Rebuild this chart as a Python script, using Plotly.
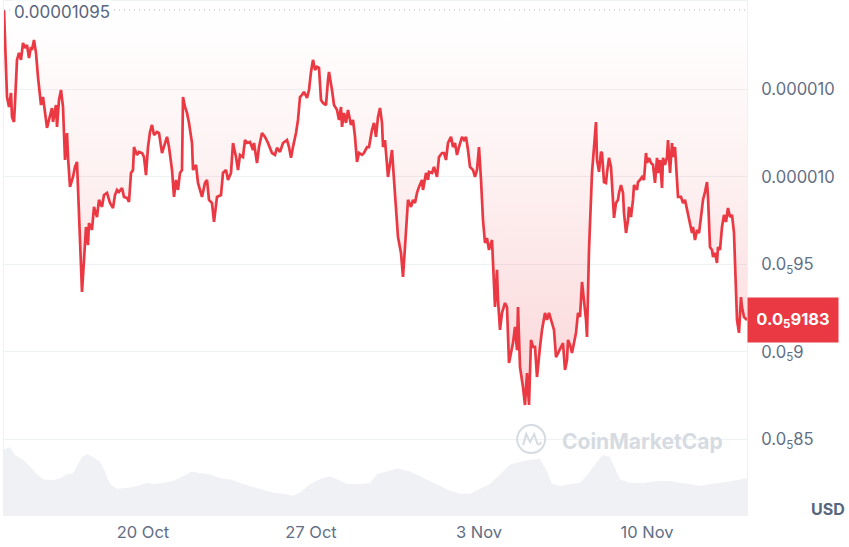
import pandas as pd
import plotly.graph_objects as go

# ---- data (price in units of 1e-6 USD, time as hours from the first sample) ----
start_time = pd.Timestamp("2024-10-14 05:00")
span_hours = 743
open_price = 10.954  # 0.00001095

price_hours = [
    0, 3, 5, 7, 8, 10, 11, 13, 15, 17, 19, 21, 23, 25, 27, 28, 30, 32, 34, 37,
    39, 42, 43, 45, 48, 49, 52, 53, 55, 57, 59, 61, 63, 64, 66, 69, 71, 73, 74, 76,
    78, 80, 82, 84, 85, 88, 90, 93, 95, 98, 100, 103, 106, 109, 111, 113, 115, 118, 120, 123,
    125, 127, 129, 130, 133, 135, 138, 140, 142, 144, 146, 148, 150, 153, 155, 158, 160, 163, 165, 168,
    170, 172, 174, 176, 178, 179, 181, 183, 185, 188, 189, 192, 194, 198, 201, 203, 205, 208, 210, 213,
    217, 219, 222, 224, 227, 229, 232, 234, 236, 239, 241, 243, 246, 249, 250, 253, 255, 258, 261, 264,
    268, 271, 273, 276, 279, 283, 285, 287, 289, 292, 294, 296, 298, 300, 303, 305, 307, 309, 311, 313,
    315, 317, 319, 322, 324, 325, 328, 330, 333, 335, 337, 338, 340, 342, 344, 347, 349, 351, 353, 355,
    358, 360, 363, 365, 368, 370, 372, 374, 376, 378, 379, 381, 384, 388, 390, 392, 394, 397, 399, 401,
    403, 404, 407, 409, 411, 413, 415, 418, 419, 422, 424, 425, 428, 430, 433, 435, 438, 440, 442, 444,
    447, 449, 451, 453, 455, 458, 460, 462, 464, 466, 469, 471, 473, 475, 477, 479, 481, 483, 485, 488,
    491, 493, 494, 496, 498, 501, 503, 505, 507, 509, 511, 513, 514, 516, 519, 521, 523, 525, 527, 529,
    531, 533, 536, 538, 541, 543, 545, 548, 550, 552, 554, 557, 559, 561, 563, 564, 566, 568, 570, 572,
    574, 576, 578, 580, 582, 583, 585, 588, 589, 592, 593, 595, 597, 598, 600, 602, 603, 605, 607, 609,
    610, 612, 614, 615, 617, 619, 620, 622, 624, 625, 627, 629, 630, 633, 634, 636, 638, 640, 642, 643,
    645, 647, 649, 651, 653, 654, 656, 658, 659, 661, 663, 664, 666, 668, 669, 671, 673, 674, 677, 679,
    681, 683, 686, 688, 689, 691, 693, 695, 697, 699, 701, 703, 704, 706, 708, 709, 711, 713, 714, 716,
    718, 720, 722, 724, 726, 728, 730, 732, 733, 735, 737, 738, 740, 743,
]
price_e6 = [
    10.954, 10.457, 10.400, 10.480, 10.343, 10.314, 10.423, 10.669, 10.709, 10.669,
    10.766, 10.737, 10.754, 10.680, 10.743, 10.726, 10.783, 10.709, 10.571, 10.411,
    10.457, 10.309, 10.280, 10.326, 10.394, 10.314, 10.411, 10.286, 10.440, 10.497,
    10.400, 10.097, 10.251, 10.114, 9.943, 10.000, 10.057, 10.086, 9.943, 9.680,
    9.343, 9.526, 9.714, 9.611, 9.737, 9.697, 9.829, 9.771, 9.869, 9.829,
    9.897, 9.909, 9.851, 9.823, 9.897, 9.926, 9.914, 9.937, 9.886, 9.880,
    9.857, 10.023, 10.040, 10.171, 10.126, 10.143, 10.137, 10.114, 10.011, 10.171,
    10.257, 10.297, 10.240, 10.257, 10.251, 10.137, 10.171, 10.229, 10.171, 10.040,
    9.886, 9.983, 9.926, 10.023, 10.040, 10.457, 10.400, 10.366, 10.309, 10.194,
    10.040, 10.069, 9.966, 9.886, 9.966, 9.983, 9.869, 9.851, 9.743, 9.886,
    9.897, 10.023, 10.040, 9.983, 10.023, 10.194, 10.114, 10.040, 10.126, 10.114,
    10.211, 10.194, 10.200, 10.154, 10.194, 10.080, 10.171, 10.251, 10.229, 10.194,
    10.137, 10.126, 10.166, 10.143, 10.194, 10.211, 10.171, 10.109, 10.171, 10.251,
    10.326, 10.457, 10.469, 10.486, 10.451, 10.497, 10.600, 10.669, 10.611, 10.629,
    10.623, 10.440, 10.423, 10.411, 10.554, 10.600, 10.497, 10.411, 10.383, 10.326,
    10.400, 10.286, 10.366, 10.309, 10.383, 10.297, 10.326, 10.229, 10.086, 10.137,
    10.126, 10.137, 10.171, 10.171, 10.269, 10.309, 10.229, 10.343, 10.394, 10.309,
    10.171, 10.211, 10.000, 10.154, 9.983, 9.794, 9.657, 9.566, 9.429, 9.600,
    9.754, 9.869, 9.829, 9.869, 9.851, 9.909, 9.943, 9.983, 9.926, 10.023,
    9.983, 10.029, 10.023, 10.057, 10.000, 10.114, 10.137, 10.137, 10.097, 10.194,
    10.229, 10.171, 10.194, 10.126, 10.171, 10.229, 10.211, 10.229, 10.154, 10.057,
    10.040, 10.000, 10.040, 10.171, 9.983, 9.754, 9.623, 9.651, 9.583, 9.640,
    9.257, 9.469, 9.297, 9.126, 9.223, 9.280, 9.257, 8.937, 8.994, 9.051,
    9.143, 9.011, 9.257, 8.914, 8.800, 8.697, 8.880, 8.697, 9.069, 9.029,
    9.029, 8.857, 9.029, 9.126, 9.223, 9.183, 9.223, 9.166, 9.126, 8.971,
    8.994, 9.029, 9.051, 8.897, 8.954, 9.069, 9.040, 8.994, 9.051, 9.109,
    9.223, 9.200, 9.400, 9.297, 9.183, 9.086, 9.583, 10.023, 10.086, 10.314,
    10.097, 10.029, 10.143, 10.137, 9.971, 9.966, 10.023, 10.109, 10.057, 9.886,
    9.766, 9.851, 9.869, 9.909, 9.954, 9.909, 9.794, 9.680, 9.754, 9.829,
    9.771, 9.869, 9.954, 9.926, 9.971, 9.983, 10.000, 9.983, 10.137, 10.080,
    10.109, 10.080, 10.069, 9.966, 10.109, 10.023, 10.097, 9.937, 10.109, 10.069,
    10.114, 10.211, 10.023, 10.194, 10.114, 10.171, 9.966, 9.886, 9.886, 9.851,
    9.869, 9.811, 9.737, 9.680, 9.714, 9.640, 9.697, 9.680, 9.771, 9.869,
    9.914, 9.971, 9.886, 9.600, 9.583, 9.543, 9.566, 9.509, 9.600, 9.583,
    9.714, 9.783, 9.743, 9.823, 9.771, 9.783, 9.680, 9.371, 9.183, 9.109,
    9.314, 9.257, 9.200, 9.183,
]

volume_hours = [
    0, 6, 11, 19, 26, 33, 39, 49, 56, 63, 69, 74, 78, 83, 89, 96, 101, 106, 113, 123,
    133, 143, 149, 159, 169, 179, 188, 196, 206, 216, 226, 236, 246, 256, 269, 279, 289, 296, 306, 316,
    326, 333, 343, 356, 366, 373, 383, 393, 406, 416, 426, 436, 446, 456, 466, 476, 486, 496, 506, 516,
    526, 536, 543, 548, 556, 566, 576, 584, 593, 599, 606, 611, 616, 626, 639, 653, 666, 676, 686, 696,
    706, 716, 726, 736, 743,
]
volume = [
    69, 71, 63, 58, 51, 43, 38, 37, 39, 43, 44, 53, 61, 64, 61, 56, 46, 33, 28, 29,
    31, 34, 33, 34, 36, 41, 46, 44, 43, 39, 38, 34, 31, 28, 24, 23, 21, 24, 33, 38,
    41, 38, 33, 33, 34, 43, 46, 49, 46, 41, 36, 31, 26, 23, 23, 28, 33, 43, 53, 56,
    58, 59, 46, 33, 31, 33, 34, 43, 56, 63, 61, 49, 38, 34, 34, 36, 36, 34, 33, 31,
    33, 34, 36, 38, 39,
]

grid_vals = [8.5, 9.0, 9.5, 10.0, 10.5]
grid_text = ["0.0<sub>5</sub>85", "0.0<sub>5</sub>9", "0.0<sub>5</sub>95", "0.000010", "0.000010"]
open_label = "0.00001095"
last_label = "<b>0.0<sub>5</sub>9183</b>"

RED = "#ea3943"
GREY = "#58667e"
FONT = "Inter, 'Noto Sans', sans-serif"

price_times = [start_time + pd.Timedelta(hours=h) for h in price_hours]
volume_times = [start_time + pd.Timedelta(hours=h) for h in volume_hours]
end_time = start_time + pd.Timedelta(hours=span_hours)

fig = go.Figure()

# 出来高（背景のグレー領域）
fig.add_trace(go.Scatter(
    x=volume_times, y=volume, yaxis="y2",
    mode="lines", line=dict(width=0, color="#eef0f4"),
    fill="tozeroy", fillcolor="#eff1f4", hoverinfo="skip",
))

# 始値ライン（塗りの基準）
fig.add_trace(go.Scatter(
    x=[start_time, end_time], y=[open_price, open_price],
    mode="lines", line=dict(width=0), hoverinfo="skip",
))

# 価格ライン + グラデーション塗り
fig.add_trace(go.Scatter(
    x=price_times, y=price_e6,
    mode="lines", line=dict(color=RED, width=2.7),
    fill="tonexty",
    fillgradient=dict(
        type="vertical",
        colorscale=[[0, "rgba(234,57,67,0.22)"], [0.6, "rgba(234,57,67,0.07)"],
                    [1, "rgba(234,57,67,0.0)"]],
        start=8.6, stop=open_price,
    ),
))

# 点線（始値）
fig.add_trace(go.Scatter(
    x=[start_time, end_time], y=[open_price, open_price],
    mode="lines", line=dict(color="#a6b0c3", width=1, dash="1px,4px"),
    hoverinfo="skip",
))

fig.update_layout(
    width=849, height=547,
    margin=dict(l=4, r=102, t=0, b=31),
    paper_bgcolor="white", plot_bgcolor="white",
    showlegend=False,
    font=dict(family=FONT, size=16, color=GREY),
    xaxis=dict(
        range=[start_time, end_time],
        showgrid=False, zeroline=False, showline=False,
        tickvals=[pd.Timestamp("2024-10-20"), pd.Timestamp("2024-10-27"),
                  pd.Timestamp("2024-11-03"), pd.Timestamp("2024-11-10")],
        tickformat="%-d %b",
        tickfont=dict(size=16.5, color="#616e85"),
        ticklabelstandoff=4,
    ),
    yaxis=dict(
        range=[8.063, 11.011], side="right",
        tickvals=grid_vals, ticktext=grid_text,
        tickfont=dict(size=16.6, color="#616e85"),
        gridcolor="#eff2f5", gridwidth=1, zeroline=False,
        showline=True, linecolor="#eff2f5", mirror=True,
        ticklabelstandoff=10,
    ),
    yaxis2=dict(
        overlaying="y", range=[0, max(volume) * 7.5],
        visible=False,
    ),
)

# 上端の細い枠線
fig.add_shape(
    type="line", xref="paper", yref="paper", x0=0, x1=1, y0=1, y1=1,
    line=dict(color="#eff2f5", width=2),
)

# 左上の始値ラベル
fig.add_annotation(
    xref="paper", x=0, xanchor="left", xshift=8,
    yref="y", y=open_price, yanchor="middle", yshift=-2,
    text=open_label, showarrow=False, bgcolor="white",
    font=dict(size=17, color=GREY),
)

# 現在値ラベル
fig.add_annotation(
    xref="paper", x=1, xanchor="left",
    yref="y", y=price_e6[-1], yanchor="middle",
    text=last_label, showarrow=False,
    bgcolor=RED, borderpad=9, width=72, height=26,
    font=dict(size=16.5, color="white"),
)

fig.add_annotation(
    xref="paper", x=1, xanchor="right", xshift=100,
    yref="paper", y=0, yanchor="middle", yshift=7,
    text="<b>USD</b>", showarrow=False,
    font=dict(size=16, color=GREY),
)

# ウォーターマーク
fig.add_annotation(
    xref="paper", x=0.86, xanchor="center",
    yref="paper", y=0.145, yanchor="middle",
    text="<b>CoinMarketCap</b>", showarrow=False,
    font=dict(size=21, color="#d6dbe2"),
)
fig.add_shape(
    type="circle", xref="paper", yref="paper",
    xsizemode="pixel", ysizemode="pixel", xanchor=0.7095, yanchor=0.149,
    x0=-14, x1=14, y0=-14, y1=14,
    line=dict(color="#d6dbe2", width=2),
)
fig.add_shape(
    type="path", xref="paper", yref="paper",
    xsizemode="pixel", ysizemode="pixel", xanchor=0.7095, yanchor=0.149,
    path="M -8,-6 L -5,5 L -1,-3 L 3,5 L 6,-4 Q 8,-7 10,-3",
    line=dict(color="#d6dbe2", width=2),
)

fig.write_html(
    "out.html",
    config={"displayModeBar": False},
    post_script="document.body.style.margin='0';",
)
